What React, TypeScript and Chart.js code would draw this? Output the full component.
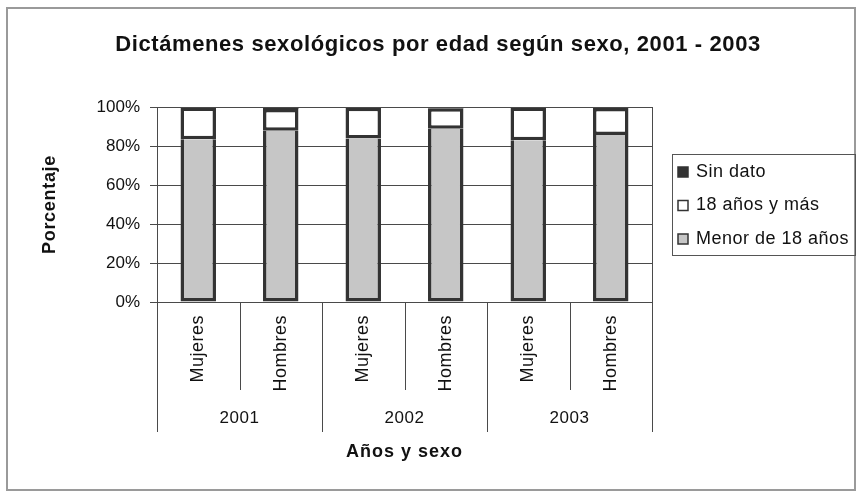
import React, { useEffect, useRef } from "react";
import { Chart, registerables } from "chart.js";

Chart.register(...registerables);

const sexLabels = ["Mujeres", "Hombres", "Mujeres", "Hombres", "Mujeres", "Hombres"];
const years = ["2001", "2002", "2003"];
const menor18 = [83.5, 87.8, 83.8, 88.8, 83.0, 85.7];
const mayor18 = [16.2, 11.2, 15.8, 10.5, 16.7, 13.8];
const sinDato = [0.3, 1.0, 0.4, 0.7, 0.3, 0.5];
const yTicks = [0, 20, 40, 60, 80, 100];

const TITLE = "Dictámenes sexológicos por edad según sexo, 2001 - 2003";
const X_TITLE = "Años y sexo";
const Y_TITLE = "Porcentaje";
const FONT = "'Liberation Sans', Arial, sans-serif";
const DARK = "#333333";
const GRID = "#4a4a4a";

const decorPlugin = {
  id: "decor",
  afterDraw(chart: any) {
    const ctx = chart.ctx;
    const area = chart.chartArea;
    const xs = chart.scales.x;
    ctx.save();
    // outer frame
    ctx.strokeStyle = "#9a9a9a";
    ctx.lineWidth = 2;
    ctx.strokeRect(7, 8, 848, 482);
    // plot frame
    ctx.strokeStyle = GRID;
    ctx.lineWidth = 1;
    ctx.strokeRect(Math.round(area.left) + 0.5, Math.round(area.top) + 0.5, Math.round(area.right - area.left), Math.round(area.bottom - area.top));
    // title
    ctx.fillStyle = "#111";
    ctx.textAlign = "center";
    ctx.textBaseline = "middle";
    ctx.font = `bold 22px ${FONT}`;
    ctx.letterSpacing = "0.6px";
    ctx.fillText(TITLE, 438, 45);
    // axis titles
    ctx.font = `bold 18px ${FONT}`;
    ctx.letterSpacing = "1px";
    ctx.fillText(X_TITLE, (area.left + area.right) / 2, 452);
    ctx.letterSpacing = "0.7px";
    ctx.save();
    ctx.translate(50, (area.top + area.bottom) / 2);
    ctx.rotate(-Math.PI / 2);
    ctx.fillText(Y_TITLE, 0, 0);
    ctx.restore();
    // category separators
    const n = sexLabels.length;
    const step = (area.right - area.left) / n;
    ctx.strokeStyle = GRID;
    ctx.lineWidth = 1;
    for (let i = 0; i <= n; i++) {
      const x = Math.round(area.left + i * step) + 0.5;
      const long = i % 2 === 0;
      ctx.beginPath();
      ctx.moveTo(x, area.bottom);
      ctx.lineTo(x, long ? 432 : 390);
      ctx.stroke();
    }
    // rotated sex labels
    ctx.font = `18px ${FONT}`;
    ctx.letterSpacing = "0.5px";
    ctx.fillStyle = "#111";
    sexLabels.forEach((lab, i) => {
      const x = xs.getPixelForValue(i);
      ctx.save();
      ctx.translate(x, 315);
      ctx.rotate(-Math.PI / 2);
      ctx.textAlign = "right";
      ctx.textBaseline = "middle";
      ctx.fillText(lab, 0, 0);
      ctx.restore();
    });
    // years
    ctx.font = `17px ${FONT}`;
    ctx.letterSpacing = "0.5px";
    ctx.textAlign = "center";
    ctx.textBaseline = "middle";
    years.forEach((yr, j) => {
      const x = (xs.getPixelForValue(j * 2) + xs.getPixelForValue(j * 2 + 1)) / 2;
      ctx.fillText(yr, x, 418);
    });
    // legend
    ctx.strokeStyle = "#555";
    ctx.lineWidth = 1;
    ctx.strokeRect(672.5, 154.5, 183, 101);
    const ds = chart.data.datasets.slice().reverse();
    ctx.font = `18px ${FONT}`;
    ctx.letterSpacing = "0.5px";
    ctx.textAlign = "left";
    ds.forEach((d: any, k: number) => {
      const y = 172 + k * 33.5;
      ctx.fillStyle = d.backgroundColor;
      ctx.fillRect(678, y - 5, 10, 10);
      ctx.strokeStyle = DARK;
      ctx.lineWidth = 1.5;
      ctx.strokeRect(678, y - 5, 10, 10);
      ctx.fillStyle = "#111";
      ctx.fillText(d.label, 696, y);
    });
    ctx.restore();
  },
};

export default function App() {
  const ref = useRef<HTMLCanvasElement>(null);
  useEffect(() => {
    document.body.style.margin = "0";
    const chart = new Chart(ref.current!, {
      type: "bar",
      data: {
        labels: sexLabels,
        datasets: [
          {
            label: "Menor de 18 años",
            data: menor18,
            backgroundColor: "#c6c6c6",
            borderColor: DARK,
            borderWidth: { left: 3.5, right: 3.5, bottom: 3.5, top: 0 },
            borderSkipped: false,
          },
          {
            label: "18 años y más",
            data: mayor18,
            backgroundColor: "#ffffff",
            borderColor: DARK,
            borderWidth: { left: 3.5, right: 3.5, bottom: 3.5, top: 3.5 },
            borderSkipped: false,
          },
          {
            label: "Sin dato",
            data: sinDato,
            backgroundColor: DARK,
            borderColor: DARK,
            borderWidth: 0,
            borderSkipped: false,
          },
        ],
      },
      options: {
        responsive: false,
        animation: false,
        events: [],
        layout: { padding: { top: 107, right: 206, bottom: 193, left: 0 } },
        plugins: { legend: { display: false }, title: { display: false }, tooltip: { enabled: false } },
        datasets: { bar: { barPercentage: 0.43, categoryPercentage: 1 } },
        scales: {
          x: { stacked: true, display: false },
          y: {
            stacked: true,
            min: 0,
            max: 100,
            afterBuildTicks: (s: any) => {
              s.ticks = yTicks.map((v) => ({ value: v }));
            },
            afterFit: (s: any) => {
              s.width = 157;
            },
            ticks: {
              callback: (v: any) => v + "%",
              color: "#111",
              font: { family: FONT, size: 17 },
              padding: 10,
            },
            grid: { color: GRID, lineWidth: 1, tickLength: 7 },
            border: { color: GRID },
          },
        },
      },
      plugins: [decorPlugin],
    } as any);
    return () => chart.destroy();
  }, []);
  return <canvas ref={ref} width={858} height={495} style={{ display: "block" }} />;
}
